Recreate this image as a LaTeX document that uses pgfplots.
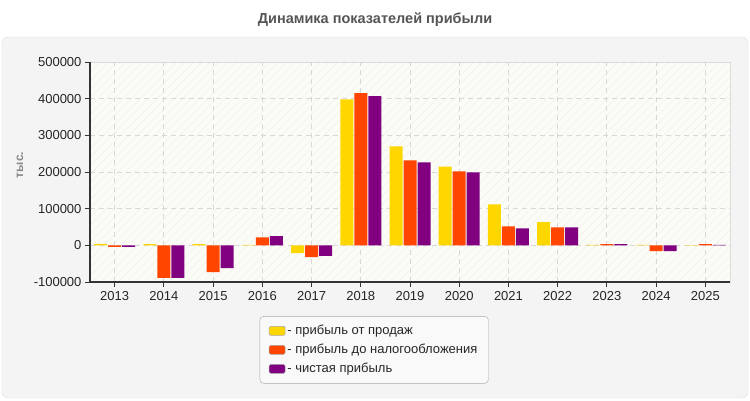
\documentclass[border=0pt]{standalone}
\usepackage{pgfplots}
\pgfplotsset{compat=1.18}
\usepackage{fontspec}
\setmainfont{Liberation Sans}
\usetikzlibrary{patterns.meta}
\definecolor{cy}{HTML}{FFD700}
\definecolor{co}{HTML}{FF4500}
\definecolor{cp}{HTML}{800080}
\definecolor{cpanel}{HTML}{F4F4F4}
\definecolor{cborder}{HTML}{DDDDDD}
\definecolor{ctitle}{HTML}{555555}
\definecolor{clabel}{HTML}{888888}
\definecolor{cplot}{HTML}{FCFCF7}
\definecolor{chatch}{HTML}{EFEFEF}
\definecolor{cgrid}{HTML}{D8D8D8}
\definecolor{caxis}{HTML}{333333}
\definecolor{clegb}{HTML}{AAAAAA}
\definecolor{clegf}{HTML}{F9F9F9}
\pgfplotsset{legsw/.style={legend image code/.code={\draw[##1,draw=gray!70,rounded corners=1.5pt,line width=0.6pt] (0pt,-4.5pt) rectangle (16pt,4.5pt);}}}
\begin{document}
\begin{tikzpicture}
\path[use as bounding box] (0pt,0pt) rectangle (750pt,400pt);
\draw[draw=cborder, fill=cpanel, rounded corners=6pt] (2pt,2pt) rectangle (748pt,363pt);
\node[font=\bfseries\fontsize{14.5}{16}\selectfont, text=ctitle] at (375pt,380pt) {Динамика показателей прибыли};
\node[rotate=90, font=\bfseries\fontsize{12}{14}\selectfont, text=clabel] at (20pt,235pt) {тыс.};
\begin{axis}[
  at={(90pt,118pt)}, anchor=south west,
  scale only axis, width=640pt, height=220pt,
  ymin=-100000, ymax=500000, ytick distance=100000,
  xmin=-0.5, xmax=12.5, xtick={0,...,12},
  xticklabels={2013,2014,2015,2016,2017,2018,2019,2020,2021,2022,2023,2024,2025},
  ybar=1pt, bar width=13pt,
  axis lines*=left,
  axis line style={draw=caxis, line width=1.2pt},
  tick style={draw=caxis, line width=1pt},
  tick align=outside, major tick length=5pt,
  xmajorgrids, ymajorgrids,
  major grid style={draw=cgrid, line width=0.9pt, dash pattern=on 5pt off 4pt},
  axis background/.style={draw=cborder, preaction={fill=cplot}, pattern={Lines[angle=45,distance=6pt,line width=0.5pt]}, pattern color=chatch},
  tick label style={font=\fontsize{13}{15}\selectfont, text=black!85},
  xticklabel style={yshift=-1pt},
  scaled y ticks=false,
  legend style={at={(0.444,-0.155)}, anchor=north, draw=clegb, fill=clegf, rounded corners=4pt,
    font=\fontsize{13}{15}\selectfont, text=black!85, row sep=4pt, inner xsep=9pt, inner ysep=7pt},
  legend cell align=left,
  /pgf/number format/.cd, fixed, set thousands separator={}, assume math mode=true,
]
\addplot[fill=cy, draw=none, legsw] coordinates {(0,4000) (1,3000) (2,3000) (3,1000) (4,-21000) (5,398000) (6,270000) (7,215000) (8,112000) (9,63000) (10,1000) (11,1000) (12,-1000)};
\addplot[fill=co, draw=none, legsw] coordinates {(0,-4000) (1,-89000) (2,-73000) (3,22000) (4,-32000) (5,415000) (6,232000) (7,202000) (8,52000) (9,49000) (10,3000) (11,-15500) (12,3000)};
\addplot[fill=cp, draw=none, legsw] coordinates {(0,-4000) (1,-89000) (2,-62000) (3,25000) (4,-29000) (5,407000) (6,226000) (7,199000) (8,46000) (9,49000) (10,3000) (11,-15500) (12,1500)};
\legend{{- прибыль от продаж},{- прибыль до налогообложения},{- чистая прибыль}}
\end{axis}
\end{tikzpicture}
\end{document}
